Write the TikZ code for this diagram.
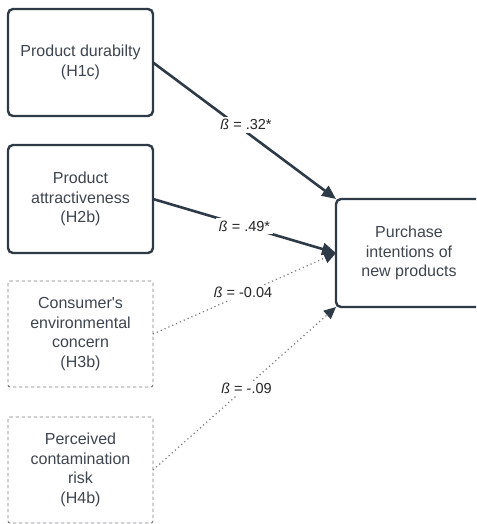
\documentclass[tikz,border=0pt]{standalone}
\usepackage{fontspec}
\setmainfont{Liberation Sans}[Ligatures=TeXOff]
\usetikzlibrary{arrows.meta}
\definecolor{edge}{HTML}{2E3A46}
\definecolor{txt}{HTML}{3E454E}
\definecolor{dgray}{HTML}{777C83}
\tikzset{
  boxfont/.style={font=\fontsize{16}{19.5}\selectfont},
  mainbox/.style={draw=edge, line width=2.4pt, rounded corners=5pt, minimum width=145pt, minimum height=107pt, align=center, text=txt, boxfont, outer sep=0pt, inner sep=2pt},
  dashbox/.style={draw=dgray, line width=0.9pt, dash pattern=on 3.5pt off 2.5pt, rounded corners=2pt, minimum width=145pt, minimum height=106pt, align=center, text=txt, boxfont, outer sep=0pt, inner sep=2pt},
  solidarrow/.style={draw=edge, line width=2.6pt, -{Triangle[length=14pt,width=12pt]}},
  dotarrow/.style={draw=dgray, line width=1.2pt, dash pattern=on 1.2pt off 3pt, -{Triangle[length=12pt,width=11pt,color=edge]}},
  lbl/.style={fill=white, text=black!85, inner sep=2.5pt, font=\fontsize{14.5}{17}\selectfont}
}
\begin{document}
\begin{tikzpicture}[x=1pt,y=-1pt]
\useasboundingbox (0,0) rectangle (476,524);
\clip (0,0) rectangle (476,524);
\node[mainbox] (b1) at (80.5,62.5) {Product durabilty\\(H1c)};
\node[mainbox, minimum height=108pt] (b2) at (80.5,199) {Product\\attractiveness\\(H2b)};
\node[dashbox] (b3) at (80.5,334) {Consumer's\\environmental\\concern\\(H3b)};
\node[dashbox] (b4) at (80.5,470) {Perceived\\contamination\\risk\\(H4b)};
\node[mainbox, minimum width=146pt, minimum height=108pt] (t) at (409,253) {Purchase\\intentions of\\new products};
\draw[solidarrow] (b1.east) -- node[lbl, pos=0.5, yshift=6pt, xshift=1.5pt] (l1) {\textit{ß} = .32*} (t.north west);
\draw[solidarrow] (b2.east) -- node[lbl, pos=0.5] (l2) {\textit{ß} = .49*} (t.west);
\draw[dotarrow] (b3.east) -- node[lbl, pos=0.5, yshift=1pt, xshift=-1.5pt] (l3) {\textit{ß} = -0.04} (t.west);
\draw[dotarrow] (b4.east) -- node[lbl, pos=0.5, xshift=2pt] (l4) {\textit{ß} = -.09} (t.south west);
\end{tikzpicture}
\end{document}
